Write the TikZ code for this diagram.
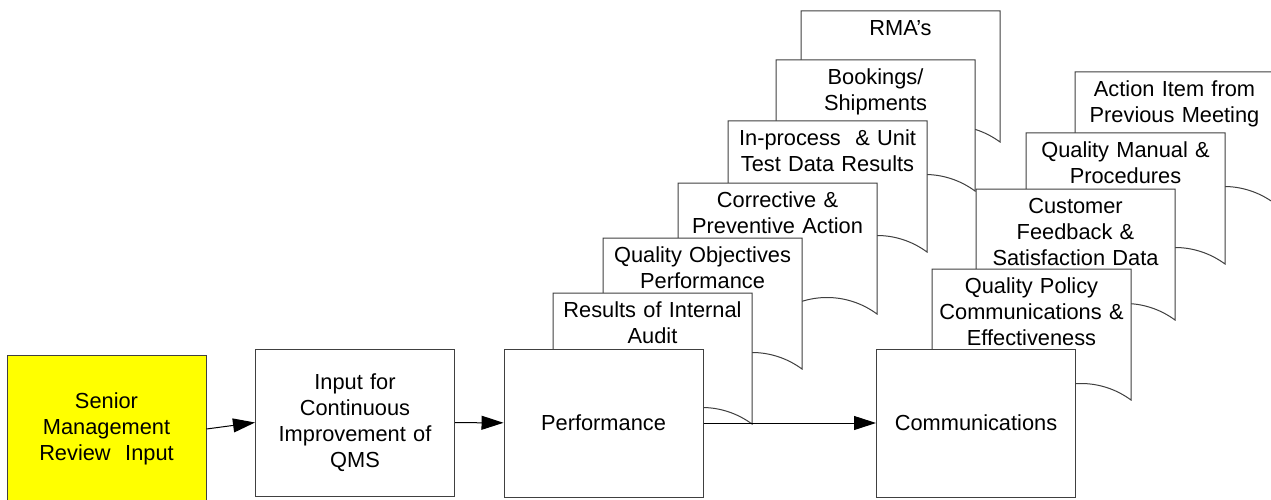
\documentclass[tikz,border=0pt]{standalone}
\usepackage{fontspec}
\setmainfont{Liberation Sans}
\usetikzlibrary{arrows.meta}

\definecolor{boxgray}{RGB}{64,64,64}
\definecolor{senioryellow}{RGB}{255,255,0}

\tikzset{
	every node/.style={font=\fontsize{21.8}{26}\selectfont},
	qmsbox/.style={draw=boxgray, line width=1pt, fill=white, minimum width=199pt, minimum height=147pt, inner sep=0pt, text width=190pt, align=center},
	docline/.style={draw=boxgray, line width=1pt, fill=white},
	doctext/.style={anchor=north, inner sep=0pt, text width=196pt, align=center},
	flow/.style={-{Triangle[length=22pt,width=14pt]}, line width=1pt, black},
}

% document shape: name, left, top, text
\newcommand{\qmsdoc}[4]{%
	\pgfmathsetmacro{\docR}{#2+199}
	\pgfmathsetmacro{\docB}{#3+131}
	\draw[docline] (#2,#3) -- (\docR,#3) -- (\docR,\docB)
		.. controls (\docR-30,\docB-22) and (\docR-70,\docB-22) .. (\docR-100,\docB)
		.. controls (\docR-130,\docB+22) and (#2+30,\docB+22) .. (#2,\docB) -- cycle;
	\node[doctext] (#1) at (#2+99.5,#3+9) {#4};
}

\begin{document}
\begin{tikzpicture}[x=1pt, y=-1pt]
		\useasboundingbox (0,0) rectangle (1271,500);
		\clip (0,0) rectangle (1271,500);

		\qmsdoc{rma}{801}{11}{RMA's}
		\qmsdoc{bookings}{776}{60}{Bookings/\\Shipments}
		\qmsdoc{testdata}{728}{121}{In-process\ \ \& Unit\\Test Data Results}
		\qmsdoc{corrective}{678}{183}{Corrective \&\\Preventive Action}
		\qmsdoc{objectives}{603}{238}{Quality Objectives\\Performance}
		\qmsdoc{audit}{553}{293}{Results of Internal\\Audit}

		\qmsdoc{actions}{1075}{72}{Action Item from\\Previous Meeting}
		\qmsdoc{manual}{1026}{133}{Quality Manual \&\\Procedures}
		\qmsdoc{feedback}{976}{189}{Customer\\Feedback \&\\Satisfaction Data}
		\qmsdoc{policy}{932}{269}{Quality Policy\\Communications \&\\Effectiveness}

		\node[qmsbox, fill=senioryellow, minimum height=148pt] (senior) at (106.5,429) {Senior\\Management\\Review\ \ Input};
		\node[qmsbox] (cqms) at (355,422.5) {Input for\\Continuous\\Improvement of\\QMS};
		\node[qmsbox, minimum height=148pt] (perf) at (603.5,423) {Performance};
		\node[qmsbox, minimum height=148pt] (comm) at (976,423) {Communications};

		\draw[flow] (senior.east) -- (cqms.west);
		\draw[flow] (cqms) -- (perf);
		\draw[flow] (perf) -- (comm);
	\end{tikzpicture}
\end{document}
